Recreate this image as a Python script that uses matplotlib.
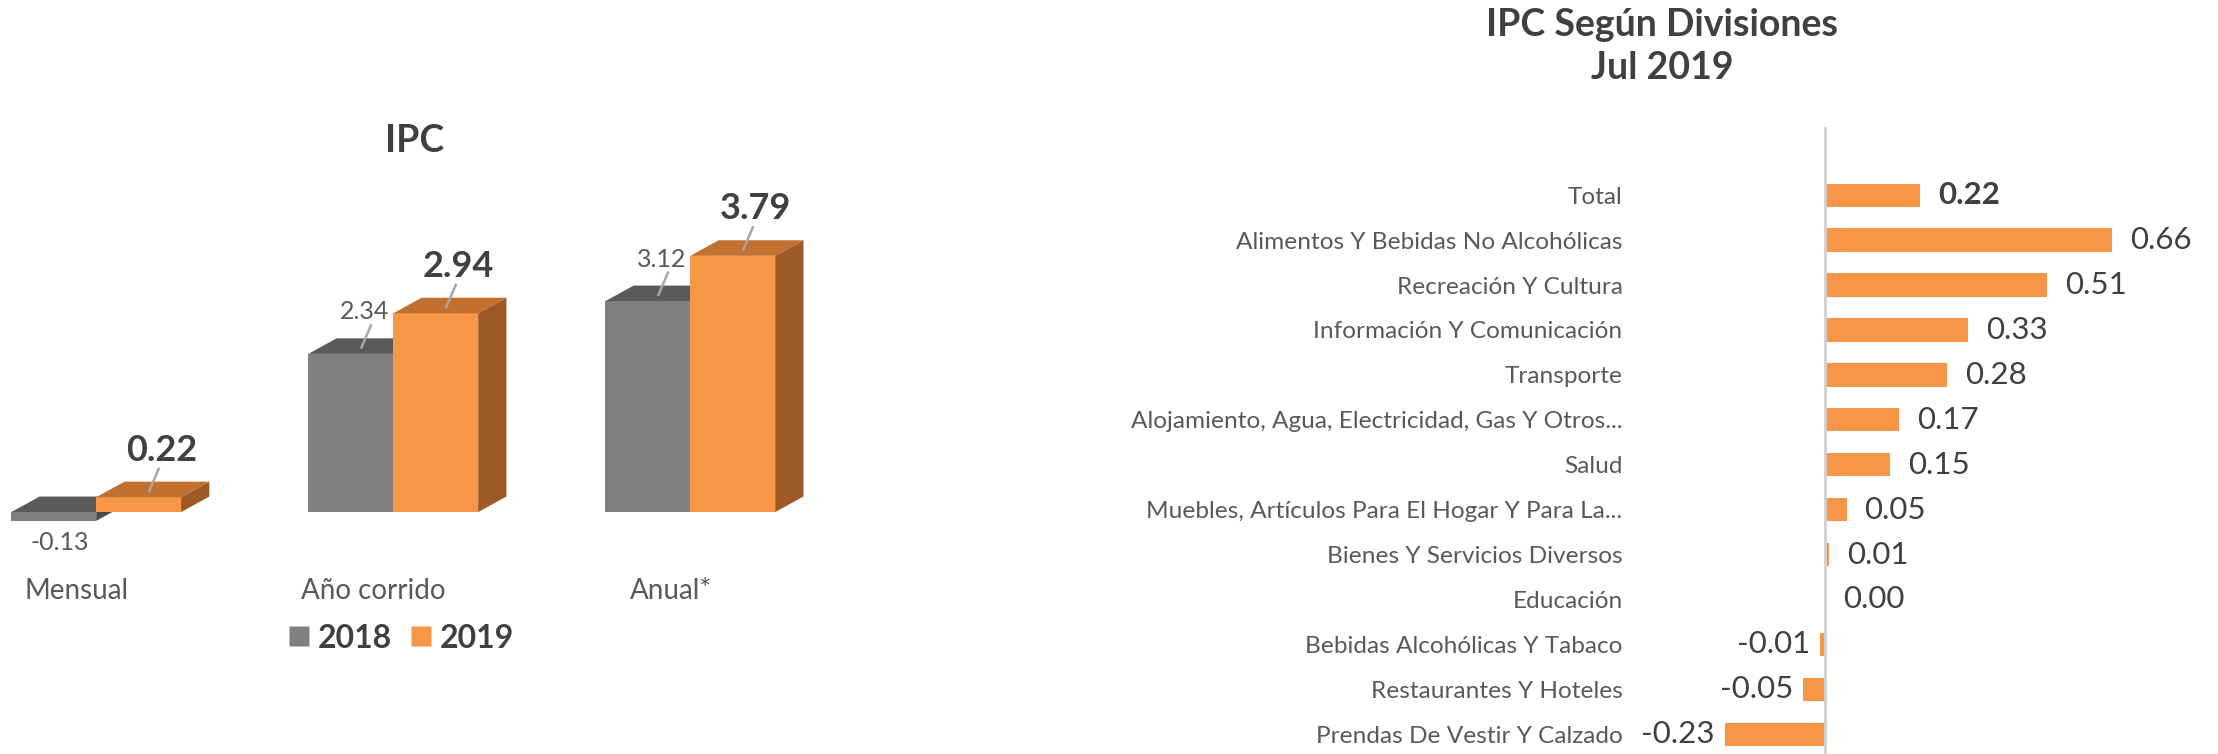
import matplotlib
matplotlib.use("Agg")
import matplotlib.pyplot as plt
from matplotlib.patches import Polygon, Rectangle
from matplotlib.lines import Line2D

plt.rcParams['font.family'] = ['Lato', 'DejaVu Sans']

# data: left chart (IPC)
periodos = ["Mensual", "Año corrido", "Anual*"]
ipc_2018 = [-0.13, 2.34, 3.12]
ipc_2019 = [0.22, 2.94, 3.79]

# data: right chart (IPC por divisiones, Jul 2019)
divisiones = [
    "Total",
    "Alimentos Y Bebidas No Alcohólicas",
    "Recreación Y Cultura",
    "Información Y Comunicación",
    "Transporte",
    "Alojamiento, Agua, Electricidad, Gas Y Otros...",
    "Salud",
    "Muebles, Artículos Para El Hogar Y Para La...",
    "Bienes Y Servicios Diversos",
    "Educación",
    "Bebidas Alcohólicas Y Tabaco",
    "Restaurantes Y Hoteles",
    "Prendas De Vestir Y Calzado",
]
variacion = [0.22, 0.66, 0.51, 0.33, 0.28, 0.17, 0.15, 0.05, 0.01, 0.00, -0.01, -0.05, -0.23]

GRAY = ("#808080", "#5a5a5a", "#4a4a4a")     # front, top, side
ORANGE = ("#F79646", "#C2702F", "#9E5A26")
TXT = "#404040"
LBL = "#595959"

W, H = 1568.0, 533.0   # layout measured on the shrunk reference
fig = plt.figure(figsize=(22.18, 7.54), dpi=100)

# ---------------- left: 3D column chart ----------------
ax = fig.add_axes([0, 0, 600 / W, 1])
ax.set_xlim(-8 / 210, 592 / 210)
ax.set_ylim((362 - 533) / 47.8, 362 / 47.8)
ax.axis("off")

w = 60 / 210
dx = 20 / 210
dy = 0.23


def bar3d(x, v, cols):
    lo, hi = min(v, 0), max(v, 0)
    ax.add_patch(Rectangle((x, lo), w, hi - lo, facecolor=cols[0], edgecolor="none"))
    ax.add_patch(Polygon([(x, hi), (x + dx, hi + dy), (x + w + dx, hi + dy), (x + w, hi)],
                         closed=True, facecolor=cols[1], edgecolor="none"))
    ax.add_patch(Polygon([(x + w, lo), (x + w + dx, lo + dy), (x + w + dx, hi + dy), (x + w, hi)],
                         closed=True, facecolor=cols[2], edgecolor="none"))


def bar_label(x, v, bold):
    cx = x + w / 2 + dx / 2
    size = 26 if bold else 18
    weight = "bold" if bold else "normal"
    col = TXT if bold else LBL
    if v >= 0:
        ax.add_line(Line2D([cx - 0.012, cx + 0.02], [v + dy * 0.4, v + 0.42],
                           color="#a6a6a6", lw=1.8))
        ax.text(cx + (0.03 if bold else 0.0), v + 0.45, f"{v:.2f}", ha="center", va="bottom",
                fontsize=size, fontweight=weight, color=col)
    else:
        ax.text(x + w / 2 + 0.02, v - 0.15, f"{v:.2f}", ha="center", va="top",
                fontsize=size, fontweight=weight, color=col)


for i in range(len(periodos)):
    bar3d(i, ipc_2018[i], GRAY)
    bar3d(i + w, ipc_2019[i], ORANGE)
for i in range(len(periodos)):
    bar_label(i, ipc_2018[i], False)
    bar_label(i + w, ipc_2019[i], True)
    ax.text(i + 0.22, (362 - 418) / 47.8, periodos[i], ha="center", va="center",
            fontsize=20, color=LBL)

fig.text(293 / W, 1 - 100 / H, "IPC", ha="center", va="center",
         fontsize=27, fontweight="bold", color=TXT)

handles = [Line2D([], [], marker="s", linestyle="none", markersize=15,
                  markerfacecolor=GRAY[0], markeredgecolor="none", label="2018"),
           Line2D([], [], marker="s", linestyle="none", markersize=15,
                  markerfacecolor=ORANGE[0], markeredgecolor="none", label="2019")]
leg = fig.legend(handles=handles, loc="center", bbox_to_anchor=(283 / W, 1 - 451 / H),
                 ncol=2, frameon=False, handletextpad=0.2, columnspacing=0.5,
                 handlelength=0.8, prop={"size": 23, "weight": "bold"})
for t in leg.get_texts():
    t.set_color(TXT)

# ---------------- right: horizontal bars ----------------
px_unit = 307.6
left_px = 1150
bx = fig.add_axes([left_px / W, 0, 1 - left_px / W, 1 - 90 / H])
bx.set_xlim((left_px - 1290) / px_unit, (W - 1290) / px_unit)
bx.set_ylim((533 - 138) / 31.75, (90 - 138) / 31.75)
pos = list(range(len(divisiones)))
bx.barh(pos, variacion, height=0.52, color=ORANGE[0])
bx.axvline(0, color="#d0d0d0", lw=2)
for s in bx.spines.values():
    s.set_visible(False)
bx.set_xticks([])
bx.set_yticks(pos)
bx.set_yticklabels(divisiones, fontsize=17.6, color=LBL)
bx.tick_params(axis="y", length=0, pad=3)

for k, v in enumerate(variacion):
    bold = k == 0
    if v >= 0:
        bx.annotate(f"{v:.2f}", (v, k), xytext=(13, 0), textcoords="offset points",
                    ha="left", va="center", fontsize=22.5,
                    fontweight="bold" if bold else "normal", color=TXT)
    else:
        bx.annotate(f"{v:.2f}", (v, k), xytext=(-7, 0), textcoords="offset points",
                    ha="right", va="center", fontsize=22.5, color=TXT)

fig.text(1175 / W, 1 - 18 / H, "IPC Según Divisiones", ha="center", va="center",
         fontsize=27, fontweight="bold", color=TXT)
fig.text(1175 / W, 1 - 48 / H, "Jul 2019", ha="center", va="center",
         fontsize=27, fontweight="bold", color=TXT)

fig.savefig("out.png", dpi=100, facecolor="white")
